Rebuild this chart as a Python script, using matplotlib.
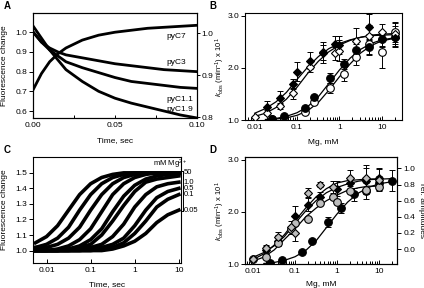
import matplotlib
matplotlib.use("Agg")
import numpy as np
import matplotlib.pyplot as plt
from matplotlib.ticker import FixedLocator, LogLocator, NullFormatter, FormatStrFormatter
import matplotlib.transforms as mtransforms

plt.rcParams['font.family'] = ['Liberation Sans', 'DejaVu Sans']
plt.rcParams['font.size'] = 6
plt.rcParams['mathtext.fontset'] = 'custom'
plt.rcParams['mathtext.rm'] = 'Liberation Sans'
plt.rcParams['mathtext.it'] = 'Liberation Sans:italic'
plt.rcParams['mathtext.default'] = 'regular'
plt.rcParams['axes.linewidth'] = 0.8

# ─────────────────────────────────────────────────────────
# Data
# ─────────────────────────────────────────────────────────
# Panel A: stopped-flow traces, 0-0.1 s
A_TIME = [0, 0.005, 0.01, 0.015, 0.02, 0.03, 0.04, 0.05, 0.06, 0.07, 0.08, 0.09, 0.1]
PYC7 = [0.71, 0.79, 0.85, 0.89, 0.92, 0.96, 0.985, 1.0, 1.01, 1.02, 1.025, 1.03, 1.035]
PYC3 = [1.0, 0.95, 0.92, 0.90, 0.885, 0.87, 0.855, 0.84, 0.83, 0.82, 0.81, 0.805, 0.80]
PYC11 = [1.0, 0.95, 0.91, 0.88, 0.85, 0.82, 0.795, 0.77, 0.75, 0.74, 0.73, 0.72, 0.715]
PYC19 = [1.03, 0.97, 0.91, 0.86, 0.81, 0.75, 0.70, 0.665, 0.64, 0.62, 0.60, 0.58, 0.565]
A_NAMES = ['pyC7', 'pyC3', 'pyC1.1', 'pyC1.9']
A_LABEL_Y = [0.978, 0.848, 0.656, 0.61]

# Panel C: traces on log time, one per Mg2+ concentration
C_TIME = [0.0056, 0.01, 0.0178, 0.0316, 0.0562, 0.1, 0.178, 0.316, 0.562, 1.0, 1.78, 3.16, 5.62, 10.0]
C_TRACES = [
    [1.05, 1.09, 1.16, 1.26, 1.36, 1.43, 1.47, 1.49, 1.50, 1.50, 1.50, 1.50, 1.50, 1.50],
    [1.02, 1.04, 1.08, 1.15, 1.26, 1.36, 1.43, 1.47, 1.49, 1.50, 1.50, 1.50, 1.50, 1.50],
    [1.02, 1.02, 1.04, 1.08, 1.15, 1.26, 1.36, 1.43, 1.47, 1.49, 1.50, 1.50, 1.50, 1.50],
    [1.00, 1.00, 1.01, 1.03, 1.07, 1.14, 1.25, 1.36, 1.43, 1.47, 1.49, 1.50, 1.50, 1.50],
    [1.00, 1.00, 1.00, 1.01, 1.03, 1.07, 1.14, 1.25, 1.35, 1.42, 1.46, 1.48, 1.49, 1.49],
    [1.00, 1.00, 1.00, 1.01, 1.02, 1.04, 1.10, 1.19, 1.29, 1.38, 1.44, 1.46, 1.47, 1.48],
    [1.00, 1.00, 1.00, 1.00, 1.01, 1.02, 1.04, 1.09, 1.17, 1.28, 1.36, 1.41, 1.43, 1.44],
    [1.00, 1.00, 1.00, 1.00, 1.00, 1.01, 1.02, 1.04, 1.08, 1.16, 1.26, 1.34, 1.38, 1.40],
    [1.00, 1.00, 1.00, 1.00, 1.00, 1.00, 1.01, 1.02, 1.05, 1.11, 1.19, 1.28, 1.33, 1.36],
    [1.00, 1.00, 1.00, 1.00, 1.00, 1.00, 1.00, 1.01, 1.03, 1.06, 1.11, 1.18, 1.23, 1.26],
]
C_MG_LABELS = ['50', '1.0', '0.5', '0.1', '0.05']
C_MG_TRACE = [0, 6, 7, 8, 9]

# Panels B and D: kobs vs Mg (mM)
FD_MG = [0.02, 0.04, 0.08, 0.1, 0.2, 0.4, 0.8, 1.0, 5, 10, 20]
FD_K = [1.25, 1.43, 1.69, 1.93, 2.14, 2.29, 2.46, 2.44, 2.79, 2.55, 2.58]
FD_ERR = [0.12, 0.12, 0.10, 0.18, 0.16, 0.20, 0.15, 0.18, 0.25, 0.12, 0.15]

OD_MG = [0.01, 0.02, 0.04, 0.08, 0.2, 0.4, 0.8, 1.0, 2.5, 5, 10, 20]
OD_K = [1.06, 1.14, 1.27, 1.51, 2.02, 2.30, 2.28, 2.33, 2.52, 2.62, 2.69, 2.66]
OD_ERR = [0.02, 0.05, 0.06, 0.10, 0.10, 0.15, 0.12, 0.20, 0.25, 0.20, 0.15, 0.20]

FC_MG = [0.025, 0.05, 0.15, 0.25, 0.6, 1.25, 2.5, 5, 10, 20]
FC_K = [1.02, 1.07, 1.23, 1.44, 1.81, 2.08, 2.34, 2.40, 2.55, 2.60]
FC_ERR = [0.01, 0.02, 0.03, 0.04, 0.10, 0.10, 0.12, 0.15, 0.15, 0.20]

OC_MG = [0.025, 0.15, 0.25, 0.6, 1.25, 2.5, 5, 10, 20]
OC_K = [1.01, 1.16, 1.35, 1.62, 1.89, 2.21, 2.46, 2.31, 2.69]
OC_ERR = [0.01, 0.03, 0.04, 0.10, 0.15, 0.15, 0.20, 0.32, 0.20]

FIT_MG = [0.01, 0.018, 0.032, 0.056, 0.1, 0.18, 0.32, 0.56, 1.0, 1.8, 3.2, 5.6, 10, 20]
FIT_FD = [1.13, 1.22, 1.35, 1.53, 1.78, 2.02, 2.22, 2.37, 2.47, 2.54, 2.59, 2.62, 2.63, 2.64]
FIT_OD = [1.07, 1.13, 1.24, 1.40, 1.63, 1.90, 2.13, 2.31, 2.44, 2.53, 2.59, 2.63, 2.65, 2.66]
FIT_FC = [np.nan, 1.01, 1.03, 1.07, 1.14, 1.26, 1.45, 1.70, 1.96, 2.19, 2.36, 2.47, 2.54, 2.58]
FIT_OC = [np.nan, 1.00, 1.02, 1.04, 1.09, 1.18, 1.34, 1.57, 1.83, 2.08, 2.29, 2.43, 2.52, 2.57]

# Panel D extra series
D_FD_MG = [0.02, 0.04, 0.1, 0.2, 0.4, 1.0, 2.0, 5, 10]
D_FD_K = [1.27, 1.45, 1.93, 2.14, 2.28, 2.45, 2.55, 2.60, 2.65]
D_FD_ERR = [0.08, 0.10, 0.18, 0.12, 0.10, 0.15, 0.10, 0.25, 0.20]

# grey symbols: relative amplitudes (right axis)
GD_MG = [0.01, 0.02, 0.04, 0.08, 0.1, 0.2, 0.4, 0.8, 2.0, 5, 10]
GD_AMP = [-0.13, 0.01, 0.15, 0.27, 0.20, 0.70, 0.80, 0.77, 0.88, 0.88, 0.86]
GD_ERR = [0.02, 0.04, 0.06, 0.08, 0.10, 0.06, 0.03, 0.08, 0.10, 0.16, 0.13]

GC_MG = [0.01, 0.02, 0.04, 0.08, 0.1, 0.2, 0.4, 0.8, 1.0, 2.0, 5, 10]
GC_AMP = [-0.13, -0.10, 0.07, 0.25, 0.32, 0.37, 0.57, 0.64, 0.58, 0.72, 0.73, 0.77]

FIT_GD = [-0.13, -0.06, 0.05, 0.18, 0.35, 0.51, 0.65, 0.75, 0.82, 0.85, 0.86, 0.87, 0.87, np.nan]
FIT_GC = [-0.15, -0.10, -0.01, 0.12, 0.25, 0.40, 0.51, 0.60, 0.67, 0.73, 0.76, 0.78, 0.78, np.nan]

GREY = '#bdbdbd'


# ─────────────────────────────────────────────────────────
# Helpers
# ─────────────────────────────────────────────────────────
def style_log_mg(ax, xlim):
    ax.set_xscale('log')
    ax.set_xlim(*xlim)
    ax.set_ylim(1.0, 3.05)
    ax.set_xticks([0.01, 0.1, 1, 10])
    ax.set_xticklabels(['0.01', '0.1', '1', '10'])
    ax.xaxis.set_minor_locator(LogLocator(base=10, subs=np.arange(2, 10)))
    ax.xaxis.set_minor_formatter(NullFormatter())
    ax.set_yticks([1.0, 2.0, 3.0])
    ax.yaxis.set_major_formatter(FormatStrFormatter('%.1f'))
    ax.tick_params(axis='x', which='both', direction='in', length=3, width=0.7, pad=3)
    ax.tick_params(axis='x', which='minor', length=2)
    ax.tick_params(axis='y', direction='out', length=3, width=0.7, pad=1.5)
    ax.set_xlabel('Mg, mM')
    ax.set_ylabel(r'$\mathit{k}_{obs}$ (min$^{-1}$) x 10$^{1}$', fontsize=5.5)


def points(ax, x, y, err, marker, face, size):
    ax.errorbar(x, y, yerr=err, fmt='none', ecolor='k', elinewidth=0.7,
                capsize=2.2, capthick=0.7, zorder=2)
    ax.plot(x, y, linestyle='none', marker=marker, mfc=face, mec='k',
            mew=0.8, ms=size, zorder=3)


# ─────────────────────────────────────────────────────────
# Figure
# ─────────────────────────────────────────────────────────
fig = plt.figure(figsize=(4.24, 2.88), dpi=100)

# --- A ---
axA = fig.add_axes([0.0785, 0.5892, 0.3854, 0.3646])
for vals in (PYC7, PYC3, PYC11, PYC19):
    axA.plot(A_TIME, vals, color='k', lw=2.0)
for name, y in zip(A_NAMES, A_LABEL_Y):
    axA.text(0.0815, y, name, fontsize=6, va='center')
axA.set_xlim(0, 0.1)
axA.set_ylim(0.563, 1.096)
axA.set_xticks([0, 0.05, 0.1])
axA.set_xticklabels(['0.00', '0.05', '0.10'])
axA.xaxis.set_minor_locator(FixedLocator([0.025, 0.075]))
axA.set_yticks([0.6, 0.7, 0.8, 0.9, 1.0])
axA.yaxis.set_major_formatter(FormatStrFormatter('%.1f'))
axA.tick_params(axis='x', which='both', direction='in', length=2.5, width=0.7, pad=3)
axA.tick_params(axis='y', direction='out', length=3, width=0.7, pad=1.5)
axA.set_xlabel('Time, sec')
axA.set_ylabel('Fluorescence change')
axA.yaxis.set_label_coords(-0.155, 0.5)
axA.xaxis.set_label_coords(0.5, -0.175)
axA2 = axA.twinx()
axA2.set_ylim(0.798, 1.048)
axA2.set_yticks([0.8, 0.9, 1.0])
axA2.yaxis.set_major_formatter(FormatStrFormatter('%.1f'))
axA2.tick_params(axis='y', direction='out', length=2.5, width=0.7, pad=1)

# --- B ---
axB = fig.add_axes([0.5785, 0.5833, 0.3696, 0.3705])
for fit in (FIT_FD, FIT_OD, FIT_FC, FIT_OC):
    axB.plot(FIT_MG, fit, color='k', lw=0.9, zorder=1)
points(axB, OC_MG, OC_K, OC_ERR, 'o', 'white', 5.5)
points(axB, FC_MG, FC_K, FC_ERR, 'o', 'k', 5.5)
points(axB, OD_MG, OD_K, OD_ERR, 'D', 'white', 4.5)
points(axB, FD_MG, FD_K, FD_ERR, 'D', 'k', 4.5)
style_log_mg(axB, (0.006, 30))
axB.yaxis.set_label_coords(-0.118, 0.5)
axB.xaxis.set_label_coords(0.5, -0.175)

# --- C ---
axC = fig.add_axes([0.0785, 0.0868, 0.3483, 0.3670])
for vals in C_TRACES:
    axC.plot(C_TIME, vals, color='k', lw=2.6)
axC.set_xscale('log')
axC.set_xlim(0.005, 11.2)
axC.set_ylim(0.92, 1.6)
axC.set_xticks([0.01, 0.1, 1, 10])
axC.set_xticklabels(['0.01', '0.1', '1', '10'])
axC.xaxis.set_minor_locator(FixedLocator([]))
axC.set_yticks([1.0, 1.1, 1.2, 1.3, 1.4, 1.5])
axC.yaxis.set_major_formatter(FormatStrFormatter('%.1f'))
axC.tick_params(axis='x', direction='in', length=3, width=0.7, pad=3)
axC.tick_params(axis='y', direction='out', length=3, width=0.7, pad=1.5)
axC.set_xlabel('Time, sec')
axC.set_ylabel('Fluorescence change')
axC.yaxis.set_label_coords(-0.17, 0.5)
axC.xaxis.set_label_coords(0.5, -0.167)

blend = mtransforms.blended_transform_factory(axC.transAxes, axC.transData)
ends = [C_TRACES[i][-1] for i in C_MG_TRACE]
top, bot = max(ends) + 0.01, min(ends) - 0.005
axC.plot([1.012, 1.012], [top, bot], color='k', lw=0.7, transform=blend, clip_on=False)
for y in (top, bot):
    axC.plot([1.004, 1.012], [y, y], color='k', lw=0.7, transform=blend, clip_on=False)
for lab, i in zip(C_MG_LABELS, C_MG_TRACE):
    axC.text(1.02, C_TRACES[i][-1], lab, transform=blend, fontsize=5.5, va='center')
axC.text(1.045, 1.0, r'mM Mg$^{2+}$', transform=axC.transAxes, fontsize=5.5,
         ha='right', va='top')

# --- D ---
axD = fig.add_axes([0.5785, 0.0833, 0.3578, 0.3705])
axD2 = axD.twinx()
for fit in (FIT_FD, FIT_FC):
    axD.plot(FIT_MG, fit, color='k', lw=0.9, zorder=1)
for fit in (FIT_GD, FIT_GC):
    axD2.plot(FIT_MG, fit, color='k', lw=0.9, zorder=1)
points(axD, FC_MG, FC_K, FC_ERR, 'o', 'k', 5.5)
points(axD, D_FD_MG, D_FD_K, D_FD_ERR, 'D', 'k', 4.5)
points(axD2, GC_MG, GC_AMP, [0] * len(GC_MG), 'o', GREY, 5.5)
points(axD2, GD_MG, GD_AMP, GD_ERR, 'D', GREY, 4.5)
style_log_mg(axD, (0.0065, 27))
axD.yaxis.set_label_coords(-0.122, 0.5)
axD.xaxis.set_label_coords(0.5, -0.155)
axD2.set_ylim(-0.186, 1.139)
axD2.set_yticks([0.0, 0.2, 0.4, 0.6, 0.8, 1.0])
axD2.yaxis.set_major_formatter(FormatStrFormatter('%.1f'))
axD2.tick_params(axis='y', direction='out', length=3, width=0.7, pad=1.5)
axD2.set_ylabel('rel. amplitudes', rotation=270, labelpad=7)

# panel letters
for letter, x, y in (('A', 0.008, 0.995), ('B', 0.494, 0.995),
                     ('C', 0.008, 0.497), ('D', 0.494, 0.497)):
    fig.text(x, y, letter, fontsize=7, fontweight='bold', va='top')

fig.savefig('out.png', dpi=100)
